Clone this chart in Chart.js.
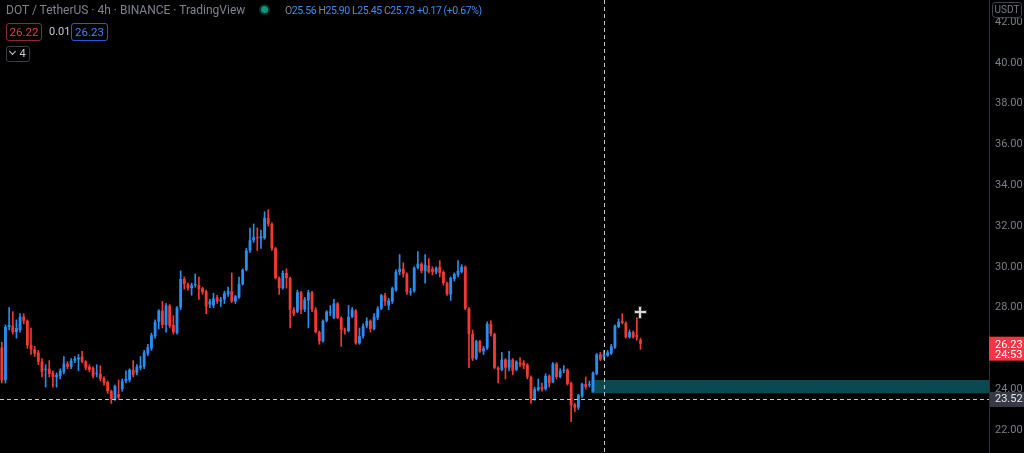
<!DOCTYPE html>
<html>
<head>
<meta charset="utf-8">
<script src="https://cdn.jsdelivr.net/npm/chart.js@4.4.0/dist/chart.umd.min.js"></script>
<style>
  body { margin: 0; background: #000; }
  #wrap { position: relative; width: 1024px; height: 453px; overflow: hidden; font-family: Roboto, "Noto Sans", sans-serif; }
  canvas { position: absolute; left: 0; top: 0; }
  .txt { position: absolute; white-space: nowrap; }
  #title { left: 6px; top: 2px; font-size: 12px; line-height: 16px; color: #80838d; }
  #dot { position: absolute; left: 261px; top: 6px; width: 7px; height: 7px; border-radius: 50%; background: #089981; box-shadow: 0 0 0 2px rgba(8,153,129,0.3); }
  #ohlc { left: 285px; top: 3px; font-size: 10.5px; letter-spacing: -0.4px; line-height: 15px; color: #80838d; }
  #ohlc b { font-weight: normal; color: #3d8ef0; }
  .box { position: absolute; height: 16px; line-height: 16px; font-size: 11.5px; text-align: center; border-radius: 3px; }
  #bid { left: 6px; top: 23px; width: 34px; border: 1px solid #8a2a31; color: #e0404c; }
  #spread { left: 49px; top: 24px; font-size: 11px; line-height: 16px; color: #c8cad0; }
  #ask { left: 71px; top: 23px; width: 35px; border: 1px solid #2a55d8; color: #4d7dff; }
  #ind { left: 6px; top: 46px; width: 22px; height: 14px; line-height: 14px; border: 1px solid #3a3d45; color: #c8cad0; font-size: 11px; }
  #ind i { display: inline-block; width: 4px; height: 4px; border-right: 1px solid #c8cad0; border-bottom: 1px solid #c8cad0; transform: rotate(45deg); margin: 0 4px 3px 0; }
</style>
</head>
<body>
<div id="wrap">
  <canvas id="chart" width="1024" height="453"></canvas>
  <div id="title" class="txt">DOT / TetherUS · 4h · BINANCE · TradingView</div>
  <div id="dot"></div>
  <div id="ohlc" class="txt">O<b>25.56</b> H<b>25.90</b> L<b>25.45</b> C<b>25.73</b> <b>+0.17 (+0.67%)</b></div>
  <div id="bid" class="box">26.22</div>
  <div id="spread" class="txt">0.01</div>
  <div id="ask" class="box">26.23</div>
  <div id="ind" class="box"><i></i>4</div>
</div>
<script>
// 4h candles
var opens = [26.05,24.45,27.05,27.1,26.8,26.9,27.55,27.35,26.15,25.95,
  25.8,25.35,24.95,25.0,24.8,24.6,24.65,24.85,25.25,25.1,
  25.4,25.45,25.6,25.35,25.1,25.05,24.75,24.75,24.55,24.35,
  23.9,23.5,23.75,24.0,24.4,24.45,24.95,24.8,25.05,25.1,
  25.75,26.0,26.6,27.3,27.85,27.15,28.1,27.15,26.75,28.0,
  29.4,29.15,28.95,29.1,29.1,28.95,28.8,28.15,28.1,28.5,
  28.3,28.4,28.65,28.8,28.3,28.5,29.15,29.85,30.8,31.3,
  31.45,31.4,31.4,32.4,32.1,30.9,29.45,28.95,29.7,29.45,
  27.9,27.8,28.75,27.9,28.35,28.75,27.9,26.8,26.35,27.35,
  27.75,27.5,28.2,27.5,26.9,26.85,27.55,27.85,26.25,26.6,
  27.1,27.35,26.95,27.5,27.95,28.6,28.1,28.3,28.85,29.75,
  29.9,29.65,28.75,28.8,29.95,30.15,29.8,30.05,29.9,29.75,
  30.0,29.75,29.2,28.65,29.4,29.6,29.75,30.0,27.95,26.7,
  25.5,26.35,25.85,26.0,27.2,26.7,25.05,24.95,25.45,25.05,
  25.45,24.95,25.3,25.3,25.2,24.6,23.5,23.95,24.1,24.0,
  24.65,24.35,25.25,24.6,24.9,24.95,24.3,23.25,23.1,23.65,
  24.25,24.2,23.9,24.75,25.7,25.56,25.65,25.75,26.05,27.05,
  27.35,27.25,26.55,26.8,26.65,26.4];
var highs = [26.3,27.15,28.0,27.8,27.4,27.7,27.7,27.4,27.0,26.1,
  25.9,25.5,25.2,25.4,24.9,24.8,25.0,25.6,25.35,25.5,
  25.6,25.7,25.85,25.4,25.2,25.1,25.2,25.15,24.6,24.4,
  23.95,24.2,24.45,24.5,24.9,25.0,25.4,25.2,25.6,25.9,
  26.2,26.75,27.4,27.9,28.3,28.2,28.15,27.6,28.05,29.8,
  29.5,29.2,29.2,29.65,29.5,29.0,28.85,28.4,28.7,28.6,
  28.5,28.8,29.0,29.7,28.6,29.5,29.9,30.9,31.9,32.1,
  31.9,31.8,32.7,32.8,32.15,30.95,29.5,29.8,29.9,29.5,
  28.0,28.85,28.8,28.5,28.85,28.8,28.0,26.85,27.4,27.85,
  28.1,28.4,28.25,27.55,27.0,28.1,28.0,27.9,27.0,27.2,
  27.5,27.4,27.7,28.05,28.65,28.7,28.45,29.0,29.85,30.6,
  30.2,29.7,28.95,30.0,30.75,30.2,30.6,30.4,30.0,30.0,
  30.3,29.8,29.25,29.5,29.7,30.3,30.1,30.05,28.0,26.9,
  26.4,26.4,26.1,27.3,27.35,26.75,25.1,25.8,25.5,25.85,
  25.5,25.4,25.55,25.4,25.25,24.65,24.1,24.5,24.3,24.75,
  24.7,25.3,25.3,25.0,25.15,25.0,24.35,23.3,23.75,24.3,
  24.6,24.4,24.85,25.75,25.8,25.9,25.9,26.2,27.15,27.45,
  27.7,27.3,26.9,26.85,27.5,26.5];
var lows = [24.3,24.3,26.9,26.7,26.5,26.8,27.2,26.0,25.7,25.6,
  25.2,24.6,24.1,24.6,24.1,24.1,24.5,24.75,25.0,25.0,
  25.3,24.9,25.3,24.95,24.85,24.55,24.6,24.4,24.2,23.8,
  23.3,23.45,23.5,23.9,24.3,24.35,24.6,24.7,24.95,25.0,
  25.65,25.9,26.5,26.95,27.0,26.8,27.0,26.7,26.7,27.9,
  28.9,28.85,28.6,29.0,28.4,28.65,27.7,28.0,28.0,28.2,
  28.05,28.2,28.55,28.25,28.2,28.45,29.1,29.8,30.7,31.2,
  30.8,30.9,31.35,32.0,30.8,29.4,28.65,28.9,28.95,27.0,
  27.6,27.75,27.7,27.8,27.0,27.8,26.75,26.2,26.3,27.3,
  27.6,27.45,27.45,26.1,26.7,26.8,27.5,26.2,26.2,26.5,
  27.0,26.8,26.9,27.4,27.9,28.1,27.9,28.2,28.8,29.6,
  29.5,28.65,28.6,28.75,29.9,29.7,29.2,29.7,29.6,29.65,
  29.5,29.1,28.6,28.35,29.3,29.5,29.7,27.9,25.05,25.4,
  25.45,25.8,25.7,25.95,26.6,25.0,24.3,24.9,24.5,24.9,
  24.7,24.9,25.1,25.0,24.5,23.3,23.45,23.9,23.9,23.95,
  24.1,24.3,24.5,24.55,24.8,24.2,22.4,22.9,23.0,23.6,
  24.0,24.1,23.85,24.7,25.4,25.45,25.6,25.7,26.0,27.0,
  27.2,26.5,26.5,26.5,26.4,25.95];
var closes = [24.45,27.05,27.15,26.8,27.0,27.55,27.35,26.15,25.95,25.75,
  25.35,24.85,25.0,24.75,24.6,24.7,24.9,25.25,25.1,25.4,
  25.5,25.55,25.35,25.05,24.95,24.65,24.8,24.5,24.3,23.9,
  23.5,24.15,23.6,24.4,24.5,24.95,24.7,25.1,25.15,25.8,
  26.05,26.65,27.3,27.85,27.15,28.1,27.1,26.8,28.0,29.4,
  29.15,28.95,29.1,29.15,28.9,28.75,28.05,28.3,28.45,28.3,
  28.4,28.7,28.8,28.3,28.55,29.15,29.85,30.8,31.3,31.45,
  31.4,31.5,32.4,32.1,30.9,29.45,28.95,29.7,29.45,27.9,
  27.7,28.75,27.9,28.4,28.75,27.9,26.8,26.35,27.35,27.8,
  27.8,28.2,27.5,26.9,26.85,27.55,27.9,26.25,26.6,27.1,
  27.35,26.95,27.55,27.95,28.6,28.3,28.35,28.95,29.75,29.9,
  29.65,28.75,28.8,29.95,30.15,29.8,30.1,29.75,29.75,29.95,
  29.7,29.2,28.65,29.45,29.65,29.8,30.0,27.95,26.7,25.5,
  26.35,25.85,26.0,27.2,26.7,25.05,24.95,25.45,25.05,25.45,
  24.9,25.35,25.2,25.15,24.6,23.5,24.0,24.1,24.0,24.65,
  24.3,25.25,24.6,24.9,24.95,24.25,23.2,23.1,23.7,24.25,
  24.1,24.25,24.8,25.7,25.45,25.73,25.8,26.1,27.1,27.3,
  27.25,26.55,26.8,26.55,26.55,26.23];

var yTicks = [22, 24, 26, 28, 30, 32, 34, 36, 38, 40, 42];
var yMin = 20.87, yMax = 43.08;   // visible price range of the pane
var slots = 271;                  // candle slots across the visible time range
var lastPrice = 26.23, countdown = "24:53";
var lineLevel = 23.52;            // horizontal dashed line
var zoneFrom = 162, zoneTop = 24.45, zoneBottom = 23.8;
var crossIndex = 165, cursorIndex = 175, cursorPrice = 27.78;

var upColor = "#2b8ded";
var downColor = "#f03a33";

var labels = [];
for (var i = 0; i < slots; i++) labels.push(i);
var bodies = opens.map(function (o, i) { return [o, closes[i]]; });
var wicks = lows.map(function (l, i) { return [l, highs[i]]; });
var colors = opens.map(function (o, i) { return closes[i] >= o ? upColor : downColor; });

function dashed(ctx, x1, y1, x2, y2) {
  ctx.save();
  ctx.strokeStyle = "#c3c5cc";
  ctx.lineWidth = 1;
  ctx.setLineDash([4, 3]);
  ctx.beginPath();
  ctx.moveTo(x1, y1);
  ctx.lineTo(x2, y2);
  ctx.stroke();
  ctx.restore();
}

const overlay = {
  id: "overlay",
  beforeDatasetsDraw(chart) {
    const { ctx, chartArea: a, scales: { x, y } } = chart;
    const step = a.width / slots;
    const x0 = x.getPixelForValue(zoneFrom) - step / 2;
    const y0 = y.getPixelForValue(zoneTop);
    const y1 = y.getPixelForValue(zoneBottom);
    ctx.fillStyle = "#0b4952";
    ctx.fillRect(x0, y0, a.right - x0, y1 - y0);
  },
  afterDraw(chart) {
    const { ctx, chartArea: a, scales: { x, y } } = chart;
    const lineY = Math.round(y.getPixelForValue(lineLevel)) + 0.5;
    dashed(ctx, a.left, lineY, a.right, lineY);
    const cx = Math.round(x.getPixelForValue(crossIndex)) + 0.5;
    dashed(ctx, cx, 0, cx, chart.height);

    // mouse cursor cross
    const px = Math.round(x.getPixelForValue(cursorIndex)), py = Math.round(y.getPixelForValue(cursorPrice));
    ctx.fillStyle = "#333";
    ctx.fillRect(px - 6, py - 2, 13, 4);
    ctx.fillRect(px - 2, py - 6, 4, 13);
    ctx.fillStyle = "#d8d8d8";
    ctx.fillRect(px - 5, py - 1, 11, 2);
    ctx.fillRect(px - 1, py - 5, 2, 11);

    ctx.font = "11px Roboto";
    ctx.textBaseline = "middle";
    ctx.textAlign = "left";

    // last price tag
    const ly = y.getPixelForValue(lastPrice);
    ctx.fillStyle = "#f23645";
    ctx.fillRect(a.right, ly - 7, chart.width - a.right, 24);
    ctx.fillStyle = "#ffffff";
    ctx.fillText(lastPrice.toFixed(2), a.right + 6, ly + 1.5);
    ctx.fillText(countdown, a.right + 6, ly + 12);

    // dashed line level tag
    const dy = y.getPixelForValue(lineLevel);
    ctx.fillStyle = "#363a45";
    ctx.fillRect(a.right + 1, dy - 7, chart.width - a.right, 15);
    ctx.fillStyle = "#e6e7ea";
    ctx.fillText(lineLevel.toFixed(2), a.right + 6, dy + 0.5);

    // currency box
    ctx.fillStyle = "#000";
    ctx.fillRect(a.right + 3, 2, 30, 16);
    ctx.strokeStyle = "#434651";
    ctx.beginPath();
    ctx.roundRect(a.right + 3.5, 2.5, 29, 15, 3);
    ctx.stroke();
    ctx.font = "10px Roboto";
    ctx.textAlign = "center";
    ctx.fillStyle = "#787b86";
    ctx.fillText("USDT", a.right + 18, 10.5);
  }
};

new Chart(document.getElementById("chart"), {
  type: "bar",
  data: {
    labels: labels,
    datasets: [{
      data: wicks,
      backgroundColor: colors,
      barThickness: 1,
      grouped: false,
      order: 2
    }, {
      data: bodies,
      backgroundColor: colors,
      barPercentage: 0.78,
      categoryPercentage: 1,
      minBarLength: 1,
      grouped: false,
      order: 1
    }]
  },
  options: {
    responsive: false,
    animation: false,
    devicePixelRatio: 1,
    layout: { padding: 0 },
    plugins: { legend: { display: false }, tooltip: { enabled: false } },
    scales: {
      x: { display: false },
      y: {
        position: "right",
        min: yMin,
        max: yMax,
        afterBuildTicks: function (s) { s.ticks = yTicks.map(function (v) { return { value: v }; }); },
        afterFit: function (s) { s.width = 35; s.paddingTop = 0; s.paddingBottom = 0; },
        grid: { display: false, drawTicks: false },
        border: { display: true, color: "#2a2e39" },
        ticks: {
          color: "#7c7f89",
          padding: 6,
          font: { family: "Roboto", size: 11 },
          callback: function (v) { return Number(v).toFixed(2); }
        }
      }
    }
  },
  plugins: [overlay]
});
</script>
</body>
</html>
